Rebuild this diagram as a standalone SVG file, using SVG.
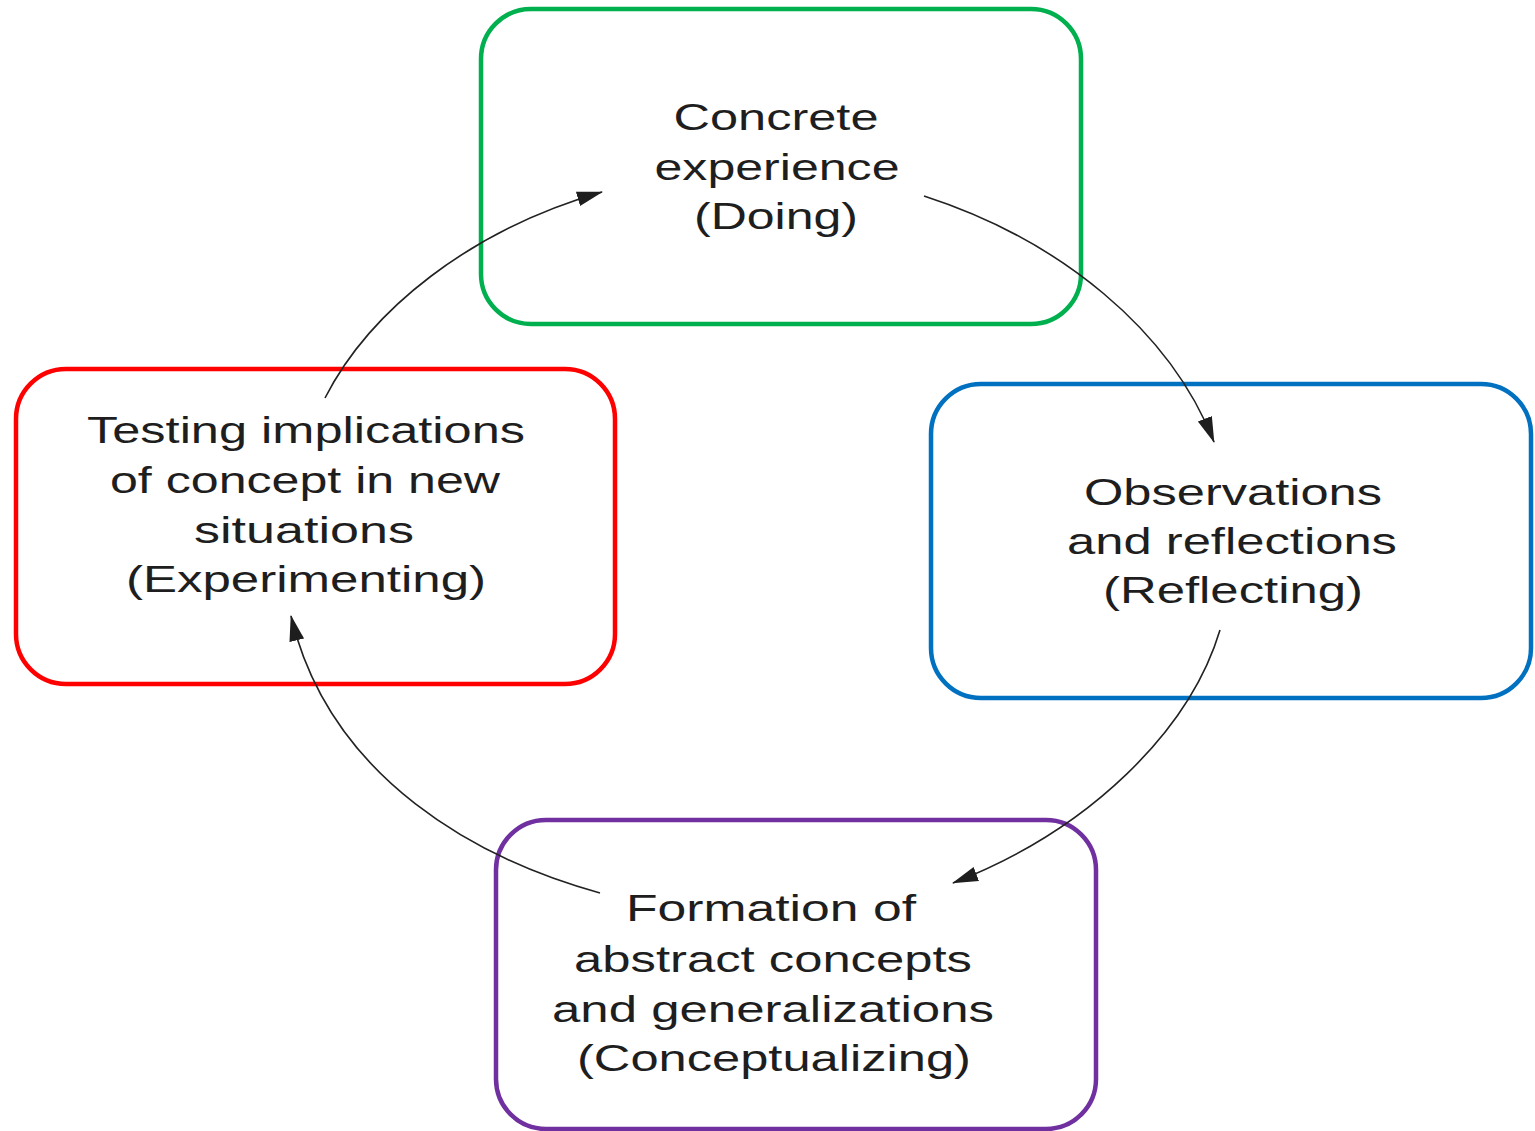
<svg xmlns="http://www.w3.org/2000/svg" width="1535" height="1131" viewBox="0 0 1535 1131">
<style>
.box{fill:none;stroke-width:4.5}
.t{font-family:"Liberation Sans",Arial,sans-serif;font-size:37px;fill:#1e1e1e;text-anchor:middle}
.c{fill:none;stroke:#222;stroke-width:1.6}
</style>
<defs>
<marker id="ah" markerUnits="userSpaceOnUse" markerWidth="30" markerHeight="20" refX="25" refY="9" orient="auto">
<path d="M0,1.5 L26,9 L0,16.5 z" fill="#1e1e1e"/>
</marker>
</defs>
<rect width="1535" height="1131" fill="#fff"/>
<g id="concrete">
<rect class="box" x="481" y="9" width="600" height="315" rx="50" stroke="#00b04f"/>
<text class="t" x="776" y="130" textLength="205" lengthAdjust="spacingAndGlyphs">Concrete</text>
<text class="t" x="777" y="180" textLength="245" lengthAdjust="spacingAndGlyphs">experience</text>
<text class="t" x="776" y="229" textLength="164" lengthAdjust="spacingAndGlyphs">(Doing)</text>
</g>
<g id="reflecting">
<rect class="box" x="931" y="384" width="600" height="314" rx="50" stroke="#0070c0"/>
<text class="t" x="1233" y="505" textLength="298" lengthAdjust="spacingAndGlyphs">Observations</text>
<text class="t" x="1232" y="554" textLength="330" lengthAdjust="spacingAndGlyphs">and reflections</text>
<text class="t" x="1233" y="603" textLength="260" lengthAdjust="spacingAndGlyphs">(Reflecting)</text>
</g>
<g id="experimenting">
<rect class="box" x="16" y="369" width="599" height="315" rx="50" stroke="#ff0000"/>
<text class="t" x="306" y="443" textLength="438" lengthAdjust="spacingAndGlyphs">Testing implications</text>
<text class="t" x="305" y="493" textLength="390" lengthAdjust="spacingAndGlyphs">of concept in new</text>
<text class="t" x="304" y="543" textLength="220" lengthAdjust="spacingAndGlyphs">situations</text>
<text class="t" x="306" y="592" textLength="360" lengthAdjust="spacingAndGlyphs">(Experimenting)</text>
</g>
<g id="conceptualizing">
<rect class="box" x="496" y="820" width="600" height="309" rx="50" stroke="#7030a0"/>
<text class="t" x="771" y="921" textLength="290" lengthAdjust="spacingAndGlyphs">Formation of</text>
<text class="t" x="773" y="972" textLength="398" lengthAdjust="spacingAndGlyphs">abstract concepts</text>
<text class="t" x="773" y="1022" textLength="442" lengthAdjust="spacingAndGlyphs">and generalizations</text>
<text class="t" x="774" y="1071" textLength="394" lengthAdjust="spacingAndGlyphs">(Conceptualizing)</text>
</g>
<g id="connectors">
<path class="c" d="M924,196 C1060,240 1170,330 1214,442" marker-end="url(#ah)"/>
<path class="c" d="M1220,630 C1190,730 1090,830 953,883" marker-end="url(#ah)"/>
<path class="c" d="M600,893 C480,860 330,780 291,616" marker-end="url(#ah)"/>
<path class="c" d="M325,398 C370,310 470,230 602,192" marker-end="url(#ah)"/>
</g>
</svg>
